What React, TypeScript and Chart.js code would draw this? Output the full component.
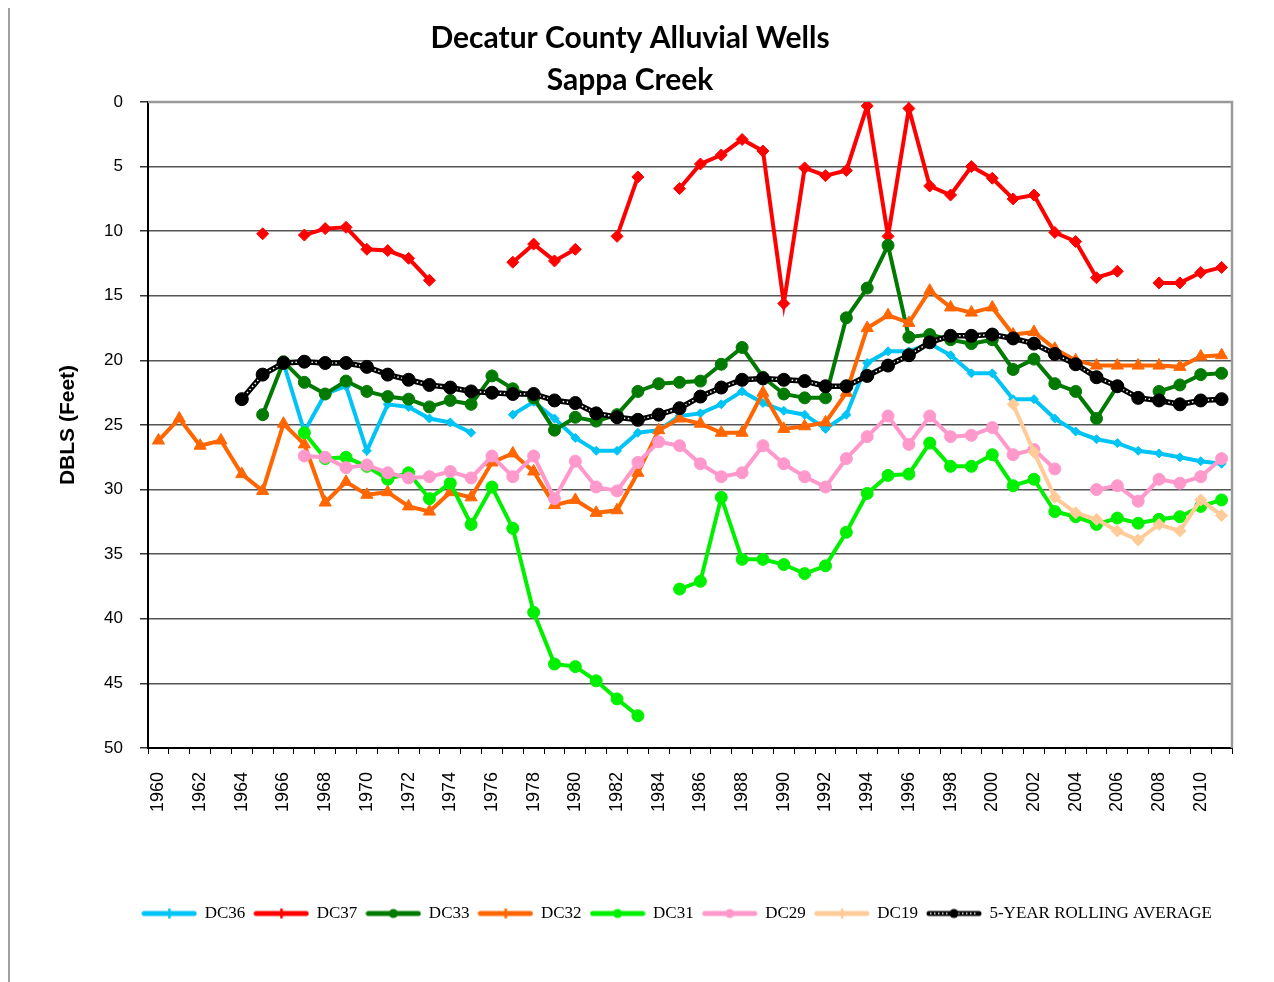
import React, { useEffect, useRef } from 'react';
import { Chart, registerables } from 'chart.js';

Chart.register(...registerables);

const years = [
  '1960', '1961', '1962', '1963', '1964', '1965', '1966', '1967', '1968', '1969',
  '1970', '1971', '1972', '1973', '1974', '1975', '1976', '1977', '1978', '1979',
  '1980', '1981', '1982', '1983', '1984', '1985', '1986', '1987', '1988', '1989',
  '1990', '1991', '1992', '1993', '1994', '1995', '1996', '1997', '1998', '1999',
  '2000', '2001', '2002', '2003', '2004', '2005', '2006', '2007', '2008', '2009',
  '2010', '2011',
];

const dc36 = [
  null, null, null, null, null, null, 20.2, 25.5, 22.6, 22.0,
  27.0, 23.4, 23.6, 24.5, 24.8, 25.6, null, 24.2, 23.2, 24.5,
  26.0, 27.0, 27.0, 25.6, 25.4, 24.3, 24.1, 23.4, 22.4, 23.3,
  23.9, 24.2, 25.3, 24.2, 20.2, 19.3, 19.3, 18.7, 19.6, 21.0,
  21.0, 23.0, 23.0, 24.5, 25.5, 26.1, 26.4, 27.0, 27.2, 27.5,
  27.8, 28.0,
];

const dc37 = [
  null, null, null, null, null, 10.2, null, 10.3, 9.8, 9.7,
  11.4, 11.5, 12.1, 13.8, null, null, null, 12.4, 11.0, 12.3,
  11.4, null, 10.4, 5.8, null, 6.7, 4.8, 4.1, 2.9, 3.8,
  15.6, 5.1, 5.7, 5.3, 0.3, 10.4, 0.5, 6.5, 7.2, 5.0,
  5.9, 7.5, 7.2, 10.1, 10.8, 13.6, 13.1, null, 14.0, 14.0,
  13.2, 12.8,
];

const dc33 = [
  null, null, null, null, null, 24.2, 20.1, 21.7, 22.6, 21.6,
  22.4, 22.8, 23.0, 23.6, 23.1, 23.4, 21.2, 22.2, 22.9, 25.4,
  24.4, 24.7, 24.2, 22.4, 21.8, 21.7, 21.6, 20.3, 19.0, 21.3,
  22.6, 22.9, 22.9, 16.7, 14.4, 11.1, 18.2, 18.0, 18.4, 18.7,
  18.4, 20.7, 19.9, 21.8, 22.4, 24.5, 22.0, null, 22.4, 21.9,
  21.1, 21.0,
];

const dc32 = [
  26.2, 24.5, 26.6, 26.2, 28.8, 30.1, 24.9, 26.5, 31.0, 29.4,
  30.4, 30.2, 31.3, 31.7, 30.2, 30.6, 27.9, 27.2, 28.6, 31.2,
  30.8, 31.8, 31.6, 28.7, 25.4, 24.5, 24.9, 25.6, 25.6, 22.5,
  25.3, 25.1, 24.8, 22.5, 17.5, 16.5, 17.1, 14.6, 15.9, 16.3,
  15.9, 18.0, 17.8, 19.1, 20.0, 20.4, 20.4, 20.4, 20.4, 20.5,
  19.7, 19.6,
];

const dc31 = [
  null, null, null, null, null, null, null, 25.6, 27.6, 27.5,
  28.2, 29.2, 28.7, 30.7, 29.5, 32.7, 29.8, 33.0, 39.5, 43.5,
  43.7, 44.8, 46.2, 47.5, null, 37.7, 37.1, 30.6, 35.4, 35.4,
  35.8, 36.5, 35.9, 33.3, 30.3, 28.9, 28.8, 26.4, 28.2, 28.2,
  27.3, 29.7, 29.2, 31.7, 32.1, 32.7, 32.2, 32.6, 32.3, 32.1,
  31.3, 30.8,
];

const dc29 = [
  null, null, null, null, null, null, null, 27.4, 27.5, 28.3,
  28.1, 28.7, 29.1, 29.0, 28.6, 29.1, 27.4, 29.0, 27.4, 30.7,
  27.8, 29.8, 30.1, 27.9, 26.3, 26.6, 28.0, 29.0, 28.7, 26.6,
  28.0, 29.0, 29.8, 27.6, 25.9, 24.3, 26.5, 24.3, 25.9, 25.8,
  25.2, 27.3, 26.9, 28.4, null, 30.0, 29.7, 30.9, 29.2, 29.5,
  29.0, 27.6,
];

const dc19 = [
  null, null, null, null, null, null, null, null, null, null,
  null, null, null, null, null, null, null, null, null, null,
  null, null, null, null, null, null, null, null, null, null,
  null, null, null, null, null, null, null, null, null, null,
  null, 23.4, 27.1, 30.6, 31.8, 32.3, 33.2, 33.9, 32.7, 33.2,
  30.8, 32.0,
];

const rolling = [
  null, null, null, null, 23.0, 21.1, 20.2, 20.1, 20.2, 20.2,
  20.5, 21.1, 21.5, 21.9, 22.1, 22.4, 22.5, 22.6, 22.6, 23.1,
  23.3, 24.1, 24.4, 24.6, 24.2, 23.7, 22.8, 22.1, 21.5, 21.4,
  21.5, 21.6, 22.0, 22.0, 21.2, 20.4, 19.6, 18.6, 18.1, 18.1,
  18.0, 18.3, 18.7, 19.5, 20.3, 21.3, 22.0, 22.9, 23.1, 23.4,
  23.1, 23.0,
];

const yTicks = [0, 5, 10, 15, 20, 25, 30, 35, 40, 45, 50];

const seriesNames = ['DC36', 'DC37', 'DC33', 'DC32', 'DC31', 'DC29', 'DC19', '5-YEAR ROLLING AVERAGE'];
const seriesColors = ['#00c4f5', '#ff0000', '#007a00', '#ff6600', '#00f000', '#ff99cc', '#ffcc99', '#000000'];

function makeLegendIcon(color: string, kind: string, dotted: boolean) {
  const c = document.createElement('canvas');
  c.width = 56;
  c.height = 14;
  const g = c.getContext('2d') as CanvasRenderingContext2D;
  g.lineCap = 'round';
  g.strokeStyle = color;
  g.lineWidth = 5;
  g.beginPath();
  g.moveTo(3, 7);
  g.lineTo(53, 7);
  g.stroke();
  if (dotted) {
    g.strokeStyle = '#ffffff';
    g.lineWidth = 1.5;
    g.lineCap = 'butt';
    g.setLineDash([1.5, 2.5]);
    g.beginPath();
    g.moveTo(4, 7);
    g.lineTo(52, 7);
    g.stroke();
    g.setLineDash([]);
  }
  g.fillStyle = color;
  if (kind === 'dot') {
    g.beginPath();
    g.arc(28, 7, 4.5, 0, Math.PI * 2);
    g.fill();
  } else {
    g.fillRect(27, 2, 2.5, 10);
  }
  return c;
}

const plotFrame = {
  id: 'plotFrame',
  beforeDraw(chart: any) {
    if (chart.legend) {
      chart.legend.right = chart.chartArea.right - 11;
    }
    if (chart.titleBlock) {
      chart.titleBlock.left = chart.titleBlock.left + 18;
    }
  },
  beforeDatasetsDraw(chart: any) {
    const { ctx, chartArea } = chart;
    ctx.save();
    ctx.strokeStyle = '#9a9a9a';
    ctx.lineWidth = 2.5;
    ctx.beginPath();
    ctx.moveTo(chartArea.left, chartArea.top);
    ctx.lineTo(chartArea.right, chartArea.top);
    ctx.lineTo(chartArea.right, chartArea.bottom);
    ctx.stroke();
    ctx.restore();
  },
};

export default function App() {
  const ref = useRef<HTMLCanvasElement | null>(null);

  useEffect(() => {
    if (!ref.current) return;
    const mk = (i: number, data: (number | null)[], style: string, radius: number, order: number) => ({
      label: seriesNames[i],
      data,
      borderColor: seriesColors[i],
      backgroundColor: seriesColors[i],
      pointBackgroundColor: seriesColors[i],
      pointBorderColor: seriesColors[i],
      pointBorderWidth: 1,
      pointStyle: style,
      pointRadius: radius,
      borderWidth: 4,
      tension: 0,
      order,
    });

    const icons = [
      makeLegendIcon(seriesColors[0], 'tick', false),
      makeLegendIcon(seriesColors[1], 'tick', false),
      makeLegendIcon(seriesColors[2], 'dot', false),
      makeLegendIcon(seriesColors[3], 'tick', false),
      makeLegendIcon(seriesColors[4], 'dot', false),
      makeLegendIcon(seriesColors[5], 'dot', false),
      makeLegendIcon(seriesColors[6], 'tick', false),
      makeLegendIcon(seriesColors[7], 'dot', true),
    ];

    const chart = new Chart(ref.current, {
      type: 'line',
      data: {
        labels: years,
        datasets: [
          mk(0, dc36, 'rectRot', 4.5, 10),
          mk(1, dc37, 'rectRot', 6, 9),
          mk(2, dc33, 'circle', 6, 8),
          mk(3, dc32, 'triangle', 7, 7),
          mk(4, dc31, 'circle', 6, 6),
          mk(5, dc29, 'circle', 6, 5),
          mk(6, dc19, 'rectRot', 6, 4),
          {
            label: 'rollLine',
            data: rolling,
            borderColor: '#000',
            borderWidth: 5.5,
            pointRadius: 0,
            order: 3,
          },
          {
            label: 'rollDots',
            data: rolling,
            borderColor: '#ffffff',
            borderWidth: 1.5,
            borderDash: [1.5, 2.5],
            pointRadius: 0,
            order: 2,
          },
          {
            label: 'rollPoints',
            data: rolling,
            showLine: false,
            borderColor: '#000',
            backgroundColor: '#000',
            pointBackgroundColor: '#000',
            pointBorderColor: '#000',
            pointStyle: 'circle',
            pointRadius: 6.5,
            order: 1,
          },
        ] as any,
      },
      options: {
        animation: false,
        responsive: true,
        maintainAspectRatio: false,
        events: [],
        layout: { padding: { left: 0, right: 42, top: 0, bottom: 50 } },
        scales: {
          x: {
            type: 'category',
            offset: true,
            grid: { display: true, drawOnChartArea: false, offset: true, tickLength: 6, color: '#000', lineWidth: 1 },
            border: { color: '#000', width: 2 },
            ticks: {
              autoSkip: false,
              maxRotation: 90,
              minRotation: 90,
              padding: 18,
              color: '#000',
              font: { family: 'Liberation Sans', size: 18 },
              callback: (_v: any, i: number) => (Number(years[i]) % 2 === 0 ? years[i] : ''),
            },
            afterFit: (s: any) => {
              s.height = 148;
            },
          },
          y: {
            reverse: true,
            min: 0,
            max: 50,
            afterBuildTicks: (s: any) => {
              s.ticks = yTicks.map((v) => ({ value: v }));
            },
            grid: { color: '#555', lineWidth: 1.5, tickLength: 8, tickColor: '#333' },
            border: { color: '#000', width: 2 },
            ticks: {
              padding: 17,
              color: '#000',
              font: { family: 'Liberation Sans', size: 17 },
            },
            title: {
              display: true,
              text: 'DBLS (Feet)',
              color: '#000',
              font: { family: 'Liberation Sans', size: 21, weight: 'bold' },
              padding: { top: 46, bottom: 0 },
            },
            afterFit: (s: any) => {
              s.width = 138;
            },
          },
        },
        plugins: {
          title: {
            display: true,
            text: ['Decatur County Alluvial Wells', 'Sappa Creek'],
            color: '#000',
            font: { family: 'Lato', size: 30, weight: 'bold', lineHeight: 1.4 },
            padding: { top: 9, bottom: 1 },
          },
          legend: {
            position: 'bottom',
            align: 'end',
            labels: {
              usePointStyle: true,
              pointStyleWidth: 54,
              padding: 9,
              color: '#000',
              font: { family: 'Liberation Serif', size: 17 },
              generateLabels: () =>
                seriesNames.map((name, i) => ({
                  text: name,
                  pointStyle: icons[i] as any,
                  fillStyle: seriesColors[i],
                  strokeStyle: seriesColors[i],
                  fontColor: '#000',
                  lineWidth: 0,
                  hidden: false,
                  datasetIndex: i,
                })),
            },
          },
          tooltip: { enabled: false },
        },
      } as any,
      plugins: [plotFrame],
    });
    return () => chart.destroy();
  }, []);

  return (
    <div
      style={{
        position: 'relative',
        width: 1266,
        height: 974,
        borderLeft: '2px solid #a0a0a0',
        boxSizing: 'border-box',
        background: '#fff',
      }}
    >
      <canvas ref={ref} />
    </div>
  );
}
